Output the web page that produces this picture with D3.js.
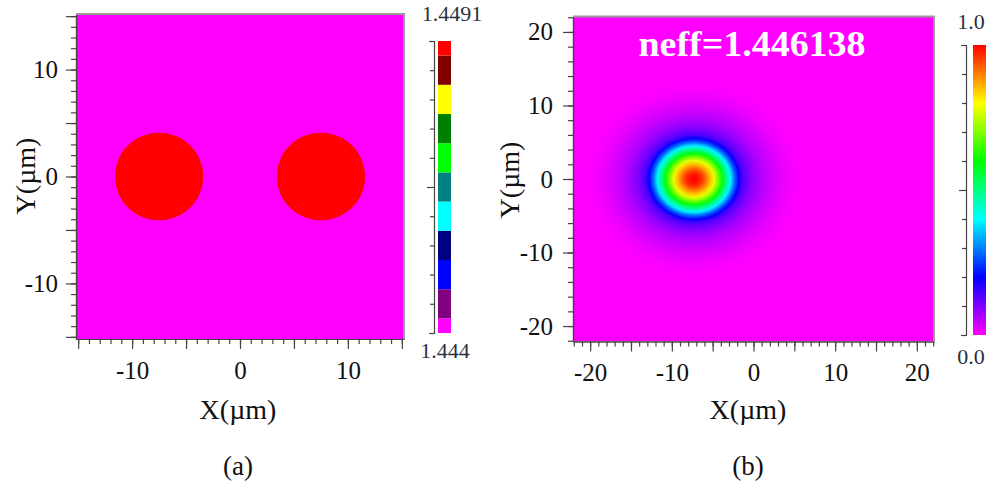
<!DOCTYPE html>
<html><head><meta charset="utf-8">
<script src="https://cdn.jsdelivr.net/npm/d3@7"></script>
<style>
html,body{margin:0;padding:0;background:#fff;}
svg{display:block;font-family:"Liberation Serif","Times New Roman",serif;}
</style>
</head><body>
<svg id="chart" width="989" height="484"></svg>
<script>
// ---------------- data ----------------
// panel (a): refractive index profile
const xDomainA = [-15.2, 15.2];
const yDomainA = [-15.2, 15.2];
const coreCentersX = [-7.5, 7.5];
const coreCentersY = [0, 0];
const coreRadii = [4.1, 4.1];
const coreIndex = 1.4491;
const claddingIndex = 1.444;
const indexLevelColors = ['#ff00ff','#800080','#0000ff','#000080','#00ffff','#008080','#00ff00','#008000','#ffff00','#800000','#ff0000'];
const indexBarLabels = ['1.444', '1.4491'];
const tickLabelsA = [-10, 0, 10];

// panel (b): mode field
const xDomainB = [-22.1, 22.1];
const yDomainB = [-22.1, 22.1];
const tickLabelsB = [-20, -10, 0, 10, 20];
const modeCenterX = -7.3;
const modeCenterY = 0;
const modeRadius    = [0, 0.5, 1, 1.5, 2, 2.5, 3, 3.5, 4, 4.5, 5, 5.5, 6, 6.5, 7, 8, 9, 10, 11, 12, 13];
const modeAmplitude = [1.00, 0.99, 0.96, 0.91, 0.85, 0.78, 0.69, 0.59, 0.49, 0.39, 0.28, 0.195, 0.14, 0.115, 0.095, 0.065, 0.045, 0.028, 0.015, 0.006, 0];
const fieldBarLabels = ['0.0', '1.0'];
const neffLabel = 'neff=1.446138';
const panelLabels = ['(a)', '(b)'];
const axisLabelX = 'X(\u00b5m)';
const axisLabelY = 'Y(\u00b5m)';

// ---------------- drawing ----------------
const svg = d3.select('#chart');
const axisColor = '#444';
const frameColor = '#9a9a9a';
const tickFont = 25, labelFont = 28;

function fieldColor(v) { return d3.hsl(300 * (1 - v), 1, 0.5).toString(); }

function styleAxis(g) {
  g.selectAll('path').attr('stroke', axisColor).attr('stroke-width', 1.2);
  g.selectAll('line').attr('stroke', axisColor).attr('stroke-width', 1.2);
  g.selectAll('text').attr('fill', '#111').style('font-size', tickFont + 'px')
    .style('font-family', '"Liberation Serif","Times New Roman",serif');
}

function drawAxes(x, y, box, xMinor, xMajor, yMinor, yMajor, labels, xPad, yPad) {
  const xr = d3.range(Math.ceil(x.domain()[0]), x.domain()[1] + 1e-9, 1);
  const yr = d3.range(Math.ceil(y.domain()[0]), y.domain()[1] + 1e-9, 1);
  const fmt = d => labels.includes(d) ? String(d) : '';
  svg.append('g').attr('transform', `translate(0,${box.b})`)
    .call(d3.axisBottom(x).tickValues(xr.filter(v => v % xMinor === 0)).tickSize(5).tickSizeOuter(0).tickFormat(''))
    .call(styleAxis);
  svg.append('g').attr('transform', `translate(${box.l},0)`)
    .call(d3.axisLeft(y).tickValues(yr.filter(v => v % yMinor === 0)).tickSize(5).tickSizeOuter(0).tickFormat(''))
    .call(styleAxis);
  svg.append('g').attr('transform', `translate(0,${box.b})`)
    .call(d3.axisBottom(x).tickValues(xr.filter(v => v % xMajor === 0)).tickSize(10).tickSizeOuter(0).tickPadding(xPad).tickFormat(fmt))
    .call(styleAxis);
  svg.append('g').attr('transform', `translate(${box.l},0)`)
    .call(d3.axisLeft(y).tickValues(yr.filter(v => v % yMajor === 0)).tickSize(10).tickSizeOuter(0).tickPadding(yPad).tickFormat(fmt))
    .call(styleAxis);
  svg.append('path').attr('d', `M${box.l},${box.t}H${box.r}V${box.b}`)
    .attr('fill', 'none').attr('stroke', frameColor).attr('stroke-width', 2);
}

function axisTitles(cx, cyX, yx, yy, label, ly) {
  svg.append('text').attr('x', cx).attr('y', cyX).attr('text-anchor', 'middle')
    .style('font-size', labelFont + 'px').attr('fill', '#111').text(axisLabelX);
  svg.append('text').attr('transform', `translate(${yx},${yy}) rotate(-90)`)
    .attr('text-anchor', 'middle').attr('dy', '0.35em')
    .style('font-size', labelFont + 'px').attr('fill', '#111').text(axisLabelY);
  svg.append('text').attr('x', cx).attr('y', ly).attr('text-anchor', 'middle')
    .style('font-size', '27px').attr('fill', '#111').text(label);
}

// ===== Panel (a) =====
const boxA = {l: 76, r: 404, t: 14, b: 339};
const xA = d3.scaleLinear().domain(xDomainA).range([boxA.l, boxA.r]);
const yA = d3.scaleLinear().domain(yDomainA).range([boxA.b, boxA.t]);
const nLevels = indexLevelColors.length;
const levelOf = d3.scaleLinear().domain([claddingIndex, coreIndex]).range([0, nLevels - 1]);
const indexColor = n => indexLevelColors[Math.round(levelOf(n))];

svg.append('rect').attr('x', boxA.l).attr('y', boxA.t)
  .attr('width', boxA.r - boxA.l).attr('height', boxA.b - boxA.t)
  .attr('fill', indexColor(claddingIndex));
const cores = coreCentersX.map((cx, i) => ({x: cx, y: coreCentersY[i], r: coreRadii[i], n: coreIndex}));
svg.append('g').selectAll('ellipse').data(cores).join('ellipse')
  .attr('cx', d => xA(d.x)).attr('cy', d => yA(d.y))
  .attr('rx', d => xA(d.x + d.r) - xA(d.x)).attr('ry', d => yA(d.y) - yA(d.y + d.r))
  .attr('fill', d => indexColor(d.n))
  .attr('stroke', '#707070').attr('stroke-width', 1).attr('stroke-dasharray', '1 3').attr('stroke-opacity', 0.6);

drawAxes(xA, yA, boxA, 1, 5, 1, 5, tickLabelsA, 12, 8);
axisTitles(238, 419, 25, 176, panelLabels[0], 475);

// colorbar (a)
const cbA = d3.scaleLinear().domain([0, nLevels - 1]).range([333, 41]);
const cbAx = 438, cbAw = 13;
svg.append('g').selectAll('rect').data(indexLevelColors).join('rect')
  .attr('x', cbAx).attr('width', cbAw)
  .attr('y', (c, i) => cbA(Math.min(i + 0.5, nLevels - 1)))
  .attr('height', (c, i) => cbA(Math.max(i - 0.5, 0)) - cbA(Math.min(i + 0.5, nLevels - 1)))
  .attr('fill', c => c);
svg.append('g').attr('transform', `translate(${cbAx - 4},0)`)
  .call(d3.axisLeft(cbA).tickValues(d3.range(nLevels)).tickSize(4).tickSizeOuter(5).tickFormat(''))
  .call(styleAxis)
  .selectAll('.tick line').attr('x2', d => d === (nLevels - 1) / 2 ? -7 : -4);
svg.append('text').attr('x', 452).attr('y', 21).attr('text-anchor', 'middle')
  .style('font-size', '22px').attr('fill', '#2a3040').text(indexBarLabels[1]);
svg.append('text').attr('x', 445).attr('y', 358).attr('text-anchor', 'middle')
  .style('font-size', '22px').attr('fill', '#2a3040').text(indexBarLabels[0]);

// ===== Panel (b) =====
const boxB = {l: 573, r: 934, t: 16.5, b: 341.5};
const xB = d3.scaleLinear().domain(xDomainB).range([boxB.l, boxB.r]);
const yB = d3.scaleLinear().domain(yDomainB).range([boxB.b, boxB.t]);
const defs = svg.append('defs');
defs.append('clipPath').attr('id', 'clipB').append('rect')
  .attr('x', boxB.l).attr('y', boxB.t).attr('width', boxB.r - boxB.l).attr('height', boxB.b - boxB.t);
const rMax = d3.max(modeRadius);
const grad = defs.append('radialGradient').attr('id', 'modeGrad');
grad.selectAll('stop').data(modeRadius.map((r, i) => ({r, v: modeAmplitude[i]}))).join('stop')
  .attr('offset', d => d.r / rMax).attr('stop-color', d => fieldColor(d.v));

const gB = svg.append('g').attr('clip-path', 'url(#clipB)');
gB.append('rect').attr('x', boxB.l).attr('y', boxB.t)
  .attr('width', boxB.r - boxB.l).attr('height', boxB.b - boxB.t)
  .attr('fill', fieldColor(0));
gB.append('ellipse')
  .attr('cx', xB(modeCenterX)).attr('cy', yB(modeCenterY))
  .attr('rx', xB(modeCenterX + rMax) - xB(modeCenterX))
  .attr('ry', yB(modeCenterY) - yB(modeCenterY + rMax))
  .attr('fill', 'url(#modeGrad)');
svg.append('text').attr('x', 752).attr('y', 56).attr('text-anchor', 'middle')
  .style('font-size', '36px').style('font-weight', 'bold').attr('fill', '#fff')
  .attr('textLength', 227).attr('lengthAdjust', 'spacingAndGlyphs').text(neffLabel);

drawAxes(xB, yB, boxB, 1, 5, 2, 10, tickLabelsB, 12, 10);
axisTitles(748, 419, 509, 180, panelLabels[1], 475);

// colorbar (b)
const cbB = d3.scaleLinear().domain([0, 1]).range([335, 45]);
const cbBx = 973, cbBw = 13;
const lg = defs.append('linearGradient').attr('id', 'fieldGrad')
  .attr('x1', 0).attr('y1', 1).attr('x2', 0).attr('y2', 0);
lg.selectAll('stop').data(d3.range(0, 1.0001, 0.05)).join('stop')
  .attr('offset', d => d).attr('stop-color', d => fieldColor(d));
svg.append('rect').attr('x', cbBx).attr('y', cbB(1)).attr('width', cbBw)
  .attr('height', cbB(0) - cbB(1)).attr('fill', 'url(#fieldGrad)');
svg.append('g').attr('transform', `translate(${cbBx - 7},0)`)
  .call(d3.axisLeft(cbB).tickValues(d3.range(0, 1.0001, 0.1)).tickSize(4).tickSizeOuter(5).tickFormat(''))
  .call(styleAxis)
  .selectAll('.tick line').attr('x2', d => Math.abs(d - 0.5) < 1e-6 ? -7 : -4);
svg.append('text').attr('x', 971).attr('y', 29).attr('text-anchor', 'middle')
  .style('font-size', '22px').attr('fill', '#2a3040').text(fieldBarLabels[1]);
svg.append('text').attr('x', 971).attr('y', 364).attr('text-anchor', 'middle')
  .style('font-size', '22px').attr('fill', '#2a3040').text(fieldBarLabels[0]);
</script>
</body></html>
